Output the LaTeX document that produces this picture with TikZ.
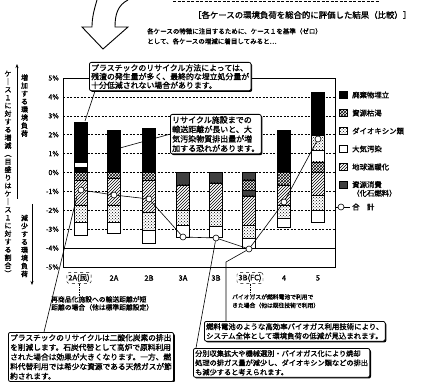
\documentclass[tikz,border=0pt]{standalone}
\usepackage{fontspec}
\setmainfont{Noto Sans CJK JP}[AutoFakeBold=1.4]
\usetikzlibrary{patterns,arrows.meta,shadows}
\newcommand\fsz[2]{\fontsize{#1}{#2}\selectfont\bfseries}
\newcommand\bseg[4]{\path[#4] ({#1-6.5},#2) rectangle ({#1+6.5},#3);}
\tikzset{
  gridln/.style={line width=0.4pt, dash pattern=on 2pt off 1.5pt},
  segbase/.style={draw=black, line width=0.5pt},
  sLand/.style={segbase, fill=black},
  sRes/.style={segbase, preaction={fill=white}, pattern=crosshatch},
  sDiox/.style={segbase, preaction={fill=white}, pattern=crosshatch dots},
  sAir/.style={segbase, fill=white},
  sWarm/.style={segbase, preaction={fill=white}, pattern=north east lines},
  sFoss/.style={segbase, fill=black!75},
  callout/.style={draw, line width=0.8pt, rounded corners=2pt, fill=white, inner sep=1.8pt,
    align=left, anchor=north west,
    drop shadow={shadow xshift=1.2pt, shadow yshift=-1.2pt, fill=black, opacity=1}},
  note/.style={inner sep=0pt, align=left, anchor=north west},
  catlbl/.style={font=\fsz{7.5}{9}, inner sep=1pt},
  catbox/.style={catlbl, draw, dashed, rounded corners=2pt, inner sep=1.5pt},
  legsq/.style={minimum size=7.5pt, inner sep=0pt},
  legtx/.style={anchor=west, font=\fsz{7.4}{8.6}, inner sep=0pt, align=left},
  totc/.style={circle, draw, fill=white, line width=0.6pt, inner sep=0pt, minimum size=6pt},
  vtext/.style={align=center, inner sep=0pt, font=\fsz{7}{8}},
  ptr/.style={line width=0.6pt}
}
\begin{document}
\begin{tikzpicture}[x=1pt,y=-1pt]
\useasboundingbox (0,0) rectangle (431,382);

% top arrow and cropped line
\draw[line width=0.8pt, dash pattern=on 3pt off 1.5pt] (173,1) -- (380,1);
\draw[line width=0.9pt] (97,0) .. controls (94,10) and (92,18) .. (92,27) -- (82,27) -- (103,49)
   -- (128,27) -- (115,27) .. controls (115,14) and (118,5) .. (128,0);

% title
\node[anchor=west, inner sep=0pt, font=\fsz{8.4}{10}] (title) at (193,15) {［各ケースの環境負荷を総合的に評価した結果（比較）］};
\node[anchor=north west, inner sep=0pt, align=left, font=\fsz{6.5}{10}] (sub) at (147,28)
  {各ケースの特徴に注目するために、ケース１を基準（ゼロ）\\として、各ケースの増減に着目してみると…};

% left vertical labels
\node[vtext] (vout) at (8,173.5) {ケ\\｜\\ス\\１\\に\\対\\す\\る\\増\\減\\︵\\目\\盛\\り\\は\\ケ\\｜\\ス\\１\\に\\対\\す\\る\\割\\合\\︶};
\node[vtext] (vup) at (24.5,105.5) {増\\加\\す\\る\\環\\境\\負\\荷};
\node[vtext] (vdn) at (24.5,246) {減\\少\\す\\る\\環\\境\\負\\荷};
\coordinate (au0) at (17,199); \coordinate (au1) at (17,64);
\coordinate (ad0) at (32,204); \coordinate (ad1) at (32,285);
\draw[line width=0.6pt,-{Stealth[length=4pt,width=3pt]}] (au0) -- (au1);
\draw[line width=0.6pt,-{Stealth[length=4pt,width=3pt]}] (ad0) -- (ad1);

% grid and frame
\foreach \v in {4,3,2,1,0,-1,-2,-3}
  \draw[gridln] (63,{172.5-18.9*\v}) -- (335,{172.5-18.9*\v});
\draw[line width=0.6pt] (63,{172.5+18.9*4}) -- (335,{172.5+18.9*4});
\draw[line width=0.7pt] (63,78) rectangle (335,267);
\foreach \v in {5,4,3,2,1,0,-1,-2,-3,-4,-5}
  \node[anchor=east, inner sep=0pt, font=\fsz{7}{8}] at (59,{172.5-18.9*\v}) {\v\%};

% bars
\bseg{81}{122}{162}{sLand}\bseg{81}{162}{167}{sAir}\bseg{81}{167}{172}{sLand}
\bseg{81}{172}{180}{sRes}\bseg{81}{180}{205}{sWarm}\bseg{81}{205}{222}{sDiox}\bseg{81}{222}{235}{sAir}

\bseg{114}{130}{172}{sLand}\bseg{114}{172}{178}{sRes}\bseg{114}{178}{205}{sWarm}
\bseg{114}{205}{222}{sDiox}\bseg{114}{222}{233}{sAir}

\bseg{149}{128}{172}{sLand}\bseg{149}{172}{180}{sRes}\bseg{149}{180}{212}{sWarm}
\bseg{149}{212}{230}{sDiox}\bseg{149}{230}{243}{sAir}

\bseg{183}{172}{185}{sFoss}\bseg{183}{185}{210}{sWarm}\bseg{183}{210}{225}{sDiox}\bseg{183}{225}{237}{sAir}

\bseg{216}{172}{183}{sFoss}\bseg{216}{183}{210}{sWarm}\bseg{216}{210}{226}{sDiox}\bseg{216}{226}{237}{sAir}

\bseg{249}{172}{180}{sFoss}\bseg{249}{180}{190}{sRes}\bseg{249}{190}{196}{sFoss}
\bseg{249}{196}{225}{sWarm}\bseg{249}{225}{238}{sDiox}\bseg{249}{238}{248}{sAir}

\bseg{284}{130}{172}{sLand}\bseg{284}{172}{185}{sRes}\bseg{284}{185}{205}{sWarm}
\bseg{284}{205}{218}{sDiox}\bseg{284}{218}{227}{sAir}

\bseg{318}{92}{135}{sLand}\bseg{318}{135}{150}{sDiox}\bseg{318}{150}{162}{sAir}\bseg{318}{162}{172}{sRes}
\bseg{318}{172}{195}{sWarm}\bseg{318}{195}{210}{sDiox}\bseg{318}{210}{222}{sAir}

% totals
\node[totc] (t1) at (81,190) {};
\node[totc] (t2) at (114,195) {};
\node[totc] (t3) at (149,199) {};
\node[totc] (t4) at (183,237) {};
\node[totc] (t5) at (216,238) {};
\node[totc] (t6) at (249,249) {};
\node[totc] (t7) at (284,202) {};
\node[totc] (t8) at (318,139) {};
\draw[line width=0.6pt] (t1) -- (t2) -- (t3) -- (t4) -- (t5) -- (t6) -- (t7) -- (t8);

% category labels
\node[catbox] (l1) at (79,278) {2A(民)};
\node[catlbl] (l2) at (114,278) {2A};
\node[catlbl] (l3) at (149,278) {2B};
\node[catlbl] (l4) at (183,278) {3A};
\node[catlbl] (l5) at (216,278) {3B};
\node[catbox] (l6) at (250,278) {3B(FC)};
\node[catlbl] (l7) at (284,278) {4};
\node[catlbl] (l8) at (318,278) {5};

\node[note, font=\fsz{6.8}{8}] (n1) at (51,296) {再商品化施設への輸送距離が短\\距離の場合（他は標準距離設定）};
\node[note, font=\fsz{5.8}{8.5}] (n2) at (232,294) {バイオガスが燃料電池で利用で\\きた場合（他は既往技術で利用）};
\draw[densely dotted, line width=0.7pt] (l1.south) -- (l1.south |- n1.north);
\draw[densely dotted, line width=0.7pt] (l6.south) -- (l6.south |- n2.north);

% legend
\node[legsq, sLand] (g1) at (343,95) {};
\node[legtx] at (352,95) {廃棄物埋立};
\node[legsq, sRes] (g2) at (343,113) {};
\node[legtx] at (352,113) {資源枯渇};
\node[legsq, sDiox] (g3) at (343,131) {};
\node[legtx] at (352,131) {ダイオキシン類};
\node[legsq, sAir] (g4) at (343,149) {};
\node[legtx] at (352,149) {大気汚染};
\node[legsq, sWarm] (g5) at (343,167) {};
\node[legtx] at (352,167) {地球温暖化};
\node[legsq, sFoss] (g6) at (343,185) {};
\node[legtx] at (352,189) {資源消費\\（化石燃料）};
\coordinate (g7a) at (336,207); \coordinate (g7b) at (350,207);
\draw[line width=0.6pt] (g7a) -- (g7b);
\node[totc] (g7) at (341,207) {};
\node[legtx] at (352,207) {合　計};

% callouts
\coordinate (p1) at (85,121);
\coordinate (p2) at (120,148);
\coordinate (p3) at (77,196);
\coordinate (k4) at (226,262);

\node[callout, font=\fsz{7.9}{8.7}] (c1) at (89,62)
  {プラスチックのリサイクル方法によっては、\\残渣の発生量が多く、最終的な埋立処分量が\\十分低減されない場合があります。};
\draw[ptr] ([xshift=6pt]c1.south west) -- (p1);

\node[callout, font=\fsz{8}{9.5}] (c2) at (170,114)
  {リサイクル施設までの\\輸送距離が長いと、大\\気汚染物質排出量が増\\加する恐れがあります。};
\draw[ptr] (c2.west) -- (p2);

\draw[ptr] (44,332) -- (p3);
\node[callout, font=\fsz{7.7}{9.6}] (c3) at (8,332)
  {プラスチックのリサイクルは二酸化炭素の排出\\を削減します。石炭代替として高炉で原料利用\\された場合は効果が大きくなります。一方、燃\\料代替利用では希少な資源である天然ガスが節\\約されます。};

\node[callout, font=\fsz{7.4}{9.3}] (c4) at (204,321)
  {燃料電池のような高効率バイオガス利用技術により、\\システム全体として環境負荷の低減が見込まれます。};
\draw[ptr] ([xshift=22pt]c4.north west) -- (k4) -- (t6);

\draw[ptr] (196,348) -- (t5);
\node[callout, font=\fsz{7.2}{9.3}] (c5) at (193,348)
  {分別収集拡大や機械選別・バイオガス化により焼却\\処理の排ガス量が減少し、ダイオキシン類などの排出\\も減少すると考えられます。};
\end{tikzpicture}
\end{document}
